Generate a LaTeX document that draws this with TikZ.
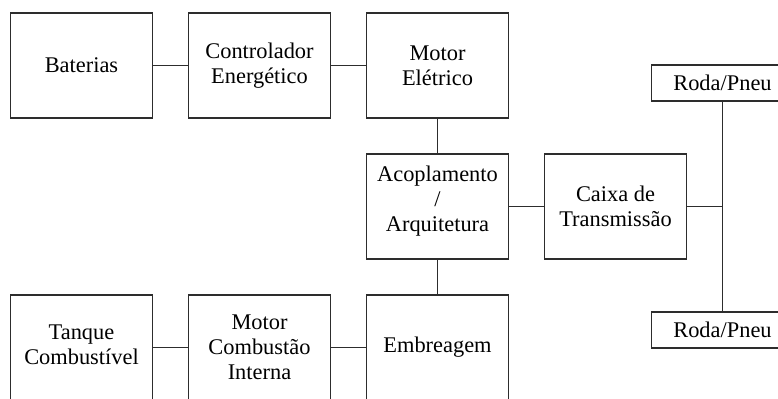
\documentclass[tikz,border=0pt]{standalone}
\usepackage{fontspec}
\setmainfont{Liberation Serif}
\usepackage{tikz}
\usetikzlibrary{positioning}
\definecolor{linegray}{RGB}{45,45,45}
\newcommand{\boxfont}{\fontsize{11.2}{12.6}\selectfont}

\begin{document}
\begin{tikzpicture}[
    x=0.5pt,y=-0.5pt,
    node distance=18pt,
    box/.style={draw=linegray,line width=0.6pt,minimum width=71pt,minimum height=52.5pt,inner sep=2pt,outer sep=0pt,font=\boxfont,align=center},
    wheel/.style={box,minimum height=18pt},
    link/.style={draw=linegray,line width=0.6pt}
]
\useasboundingbox (0,0) rectangle (778,399);
\clip (0,0) rectangle (778,399);
% ramo eletrico
\node[box] (bat) at (81.5,65.5) {Baterias};
\node[box,right=of bat] (ctrl) {Controlador\\Energ\'etico};
\node[box,right=of ctrl] (mel) {Motor\\El\'etrico};
% acoplamento e transmissao
\node[box,below=of mel,text depth=8pt] (acop) {Acoplamento\\/\\Arquitetura};
\node[box,right=of acop] (cx) {Caixa de\\Transmiss\~ao};
\coordinate[right=of cx] (eixo);
\node[wheel,above=52.75pt of eixo] (rodaA) {Roda/Pneu};
\node[wheel,below=52.75pt of eixo] (rodaB) {Roda/Pneu};
% ramo a combustao
\node[box,below=of acop] (emb) {Embreagem};
\node[box,left=of emb] (mci) {Motor\\Combust\~ao\\Interna};
\node[box,left=of mci,text height=17pt] (tq) {Tanque\\Combust\'ivel};
\foreach \a/\b in {bat/ctrl,ctrl/mel,mel/acop,acop/cx,acop/emb,tq/mci,mci/emb,cx/eixo,rodaA/rodaB}
    \draw[link] (\a) -- (\b);
\end{tikzpicture}
\end{document}
